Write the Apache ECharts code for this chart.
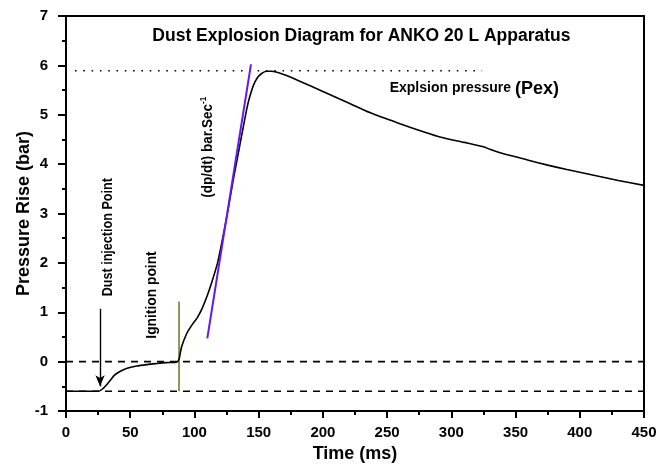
<!DOCTYPE html>
<html>
<head>
<meta charset="utf-8">
<script src="https://cdn.jsdelivr.net/npm/echarts@6/dist/echarts.min.js"></script>
<style>
  html, body { margin: 0; background: #fff; }
  #chart { width: 670px; height: 468px; }
</style>
</head>
<body>
<div id="chart"></div>
<script>
// curve
const timeMs = [0, 10, 20, 25.5, 29, 32, 35, 38, 42, 47, 55, 63, 70, 78, 86,
  88, 90, 94, 98, 102, 106, 110, 114, 118, 122,
  126, 130, 134, 138, 141, 143, 146, 149, 152, 156,
  160, 170, 182, 200, 220, 237, 260, 280, 291, 310,
  325, 330, 338, 360, 375, 390, 410, 430, 450];
const pressure = [-0.6, -0.6, -0.6, -0.6, -0.54, -0.46, -0.36, -0.27, -0.2, -0.14, -0.09, -0.06, -0.04, -0.02, -0.01,
  0.05, 0.3, 0.57, 0.74, 0.88, 1.08, 1.34, 1.65, 2.0, 2.5,
  3.05, 3.65, 4.2, 4.75, 5.15, 5.36, 5.6, 5.75, 5.83, 5.88,
  5.88, 5.81, 5.68, 5.47, 5.24, 5.04, 4.82, 4.64, 4.55, 4.44,
  4.35, 4.3, 4.23, 4.08, 3.98, 3.89, 3.78, 3.67, 3.57];

// reference lines
const zeroLevel = 0;
const startLevel = -0.6;
const pexLevel = 5.89;
const pexRange = [7, 324];
const slopeLine = [[110, 0.47], [144, 6.02]];
const ignitionLine = [[88, -0.6], [88, 1.22]];
const arrowLine = [[26.5, 1.07], [26.5, -0.5]];

// annotation anchors (data coords)
const notes = [
  { at: [230, 6.6], text: 'Dust Explosion Diagram for ANKO 20 L Apparatus', rot: 0, size: 17.5, sx: 1 },
  { at: [32.7, 2.52], text: 'Dust injection Point', rot: 90, size: 15, sx: 0.84 },
  { at: [67, 1.35], text: 'Ignition point', rot: 90, size: 15, sx: 0.92 },
];

const chart = echarts.init(document.getElementById('chart'));
const font = '"Liberation Sans", Arial, sans-serif';
const tickColor = '#000';
const curve = timeMs.map((t, i) => [t, pressure[i]]);

function plainLine(data, color, width, type) {
  return {
    type: 'line', data: data, symbol: 'none',
    lineStyle: { color: color, width: width, type: type || 'solid' }
  };
}

function frameAxis(pos) {
  // top / right border of the plot box
  return {
    type: 'value', position: pos, min: pos === 'top' ? 0 : -1, max: pos === 'top' ? 450 : 7,
    axisLine: { show: true, onZero: false, lineStyle: { color: '#000', width: 2 } },
    axisTick: { show: false }, axisLabel: { show: false }, splitLine: { show: false }
  };
}

chart.setOption({
  animation: false,
  grid: { left: 66, right: 26, top: 16, bottom: 55 },
  xAxis: [{
    type: 'value', min: 0, max: 450, interval: 50, position: 'bottom',
    name: 'Time (ms)', nameLocation: 'middle', nameGap: 34, nameMoveOverlap: false,
    nameTextStyle: { fontFamily: font, fontWeight: 'bold', fontSize: 18, color: '#000' },
    axisLine: { show: true, onZero: false, lineStyle: { color: '#000', width: 2 } },
    axisTick: { show: true, length: 7, lineStyle: { color: tickColor, width: 2 } },
    minorTick: { show: true, splitNumber: 2, length: 4, lineStyle: { color: tickColor, width: 2 } },
    axisLabel: { margin: 14, fontFamily: font, fontWeight: 'bold', fontSize: 15, color: '#000' },
    splitLine: { show: false }
  }, frameAxis('top')],
  yAxis: [{
    type: 'value', min: -1, max: 7, interval: 1, position: 'left',
    name: 'Pressure Rise (bar)', nameLocation: 'middle', nameGap: 33, nameMoveOverlap: false,
    nameTextStyle: { fontFamily: font, fontWeight: 'bold', fontSize: 18, color: '#000' },
    axisLine: { show: true, onZero: false, lineStyle: { color: '#000', width: 2 } },
    axisTick: { show: true, length: 8, lineStyle: { color: tickColor, width: 2 } },
    minorTick: { show: true, splitNumber: 2, length: 4, lineStyle: { color: tickColor, width: 2 } },
    axisLabel: { margin: 18, fontFamily: font, fontWeight: 'bold', fontSize: 15, color: '#000' },
    splitLine: { show: false }
  }, frameAxis('right')],
  series: [
    plainLine([[0, zeroLevel], [450, zeroLevel]], '#000', 1.6, [7, 6]),
    plainLine([[0, startLevel], [450, startLevel]], '#000', 1.6, [7, 6]),
    plainLine([[pexRange[0], pexLevel], [pexRange[1], pexLevel]], '#000', 1.6, [1.6, 6.7]),
    plainLine(ignitionLine, '#7b7a2c', 1.6),
    {
      type: 'line', data: curve, symbol: 'none', smooth: 0.25,
      lineStyle: { color: '#000', width: 1.6 }
    },
    plainLine(slopeLine, '#6419f0', 2),
    {
      type: 'line', data: [], symbol: 'none',
      markLine: {
        symbol: ['none', 'arrow'], symbolSize: [7, 11], label: { show: false },
        lineStyle: { color: '#000', width: 1.4, type: 'solid' },
        data: [[{ coord: arrowLine[0] }, { coord: arrowLine[1] }]]
      }
    }
  ]
});

const px = p => chart.convertToPixel({ xAxisIndex: 0, yAxisIndex: 0 }, p);
const graphics = notes.map(n => {
  const p = px(n.at);
  return {
    type: 'text', x: p[0], y: p[1], rotation: n.rot * Math.PI / 180, scaleX: n.sx, z: 10,
    style: { text: n.text, fill: '#000', font: 'bold ' + n.size + 'px ' + font, textAlign: 'center', textVerticalAlign: 'middle' }
  };
});
const pSlope = px([110.6, 4.34]);
graphics.push({
  type: 'text', x: pSlope[0], y: pSlope[1], rotation: Math.PI / 2, scaleX: 0.9, z: 10,
  style: {
    text: '{a|(dp/dt) bar.Sec}{s|-1}', textAlign: 'center', textVerticalAlign: 'middle',
    rich: {
      a: { fontFamily: font, fontWeight: 'bold', fontSize: 15, fill: '#000', lineHeight: 18 },
      s: { fontFamily: font, fontWeight: 'bold', fontSize: 9, fill: '#000', verticalAlign: 'top', lineHeight: 18 }
    }
  }
});
const pPex = px([252, 5.53]);
graphics.push({
  type: 'text', x: pPex[0], y: pPex[1], z: 10,
  style: {
    text: '{a|Explsion pressure }{b|(Pex)}', textAlign: 'left', textVerticalAlign: 'middle',
    rich: {
      a: { fontFamily: font, fontWeight: 'bold', fontSize: 14, fill: '#000' },
      b: { fontFamily: font, fontWeight: 'bold', fontSize: 18, fill: '#000' }
    }
  }
});
chart.setOption({ graphic: graphics });
</script>
</body>
</html>
